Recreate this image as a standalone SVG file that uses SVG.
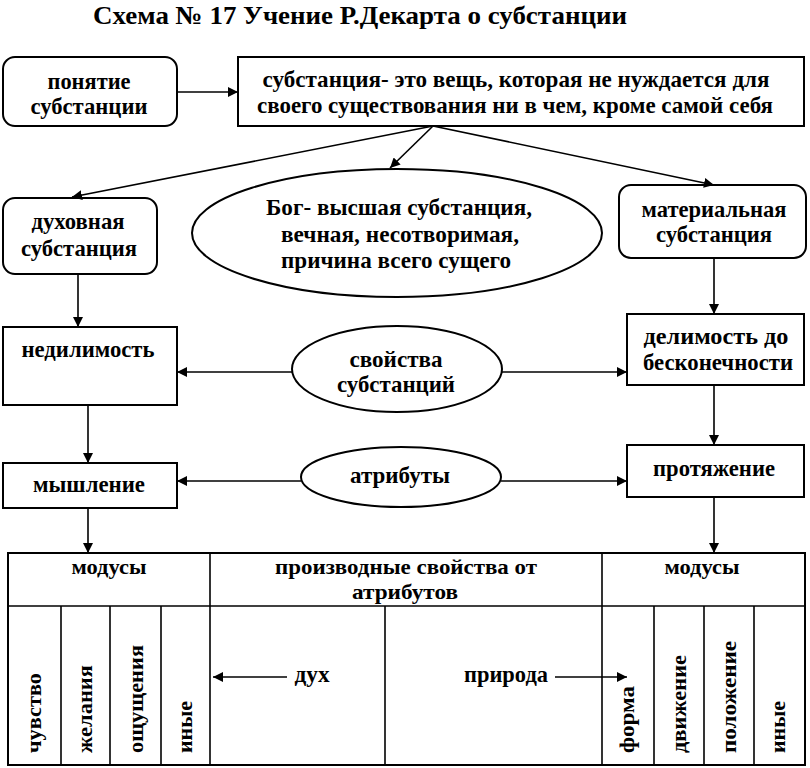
<svg xmlns="http://www.w3.org/2000/svg" width="810" height="768" viewBox="0 0 810 768">
<defs>
<marker id="ah" viewBox="0 0 10 10" refX="10" refY="5" markerWidth="10" markerHeight="10" markerUnits="userSpaceOnUse" orient="auto">
<path d="M0,0 L10,5 L0,10 z" fill="#000"/>
</marker>
<style>
.t{font-family:"Liberation Serif","Times New Roman",serif;font-weight:bold;font-size:24px;fill:#000;text-anchor:middle}
.h{font-size:22px}
.r{font-size:22px;text-anchor:start}
.title{font-size:26px}
.b{fill:#fff;stroke:#000;stroke-width:2}
.c{fill:none;stroke:#000;stroke-width:1.6;marker-end:url(#ah)}
.g{fill:none;stroke:#000;stroke-width:1.6}
</style>
</defs>
<rect width="810" height="768" fill="#fff"/>
<text class="t title" x="360" y="24" textLength="534" lengthAdjust="spacingAndGlyphs">Схема № 17 Учение Р.Декарта о субстанции</text>

<g id="n-ponyatie">
<rect class="b" x="3" y="57" width="174" height="69" rx="12"/>
<text class="t" x="89" y="89" textLength="83" lengthAdjust="spacingAndGlyphs">понятие</text>
<text class="t" x="89" y="114" textLength="117" lengthAdjust="spacingAndGlyphs">субстанции</text>
</g>
<g id="n-definition">
<rect class="b" x="238" y="57" width="566" height="69"/>
<text class="t" x="516" y="87" textLength="507" lengthAdjust="spacingAndGlyphs">субстанция- это вещь, которая не нуждается для</text>
<text class="t" x="515" y="113" textLength="516" lengthAdjust="spacingAndGlyphs">своего существования ни в чем, кроме самой себя</text>
</g>
<g id="n-dukhovnaya">
<rect class="b" x="3" y="198" width="154" height="76" rx="12"/>
<text class="t" x="78" y="229" textLength="93" lengthAdjust="spacingAndGlyphs">духовная</text>
<text class="t" x="79" y="256" textLength="116" lengthAdjust="spacingAndGlyphs">субстанция</text>
</g>
<g id="n-bog">
<ellipse class="b" cx="397" cy="233" rx="205" ry="64"/>
<text class="t" x="399" y="215" textLength="266" lengthAdjust="spacingAndGlyphs">Бог- высшая субстанция,</text>
<text class="t" x="400" y="242" textLength="238" lengthAdjust="spacingAndGlyphs">вечная, несотворимая,</text>
<text class="t" x="396" y="268" textLength="230" lengthAdjust="spacingAndGlyphs">причина всего сущего</text>
</g>
<g id="n-materialnaya">
<rect class="b" x="619" y="185" width="187" height="73" rx="12"/>
<text class="t" x="714" y="217" textLength="145" lengthAdjust="spacingAndGlyphs">материальная</text>
<text class="t" x="714" y="242" textLength="116" lengthAdjust="spacingAndGlyphs">субстанция</text>
</g>
<g id="n-nedilimost">
<rect class="b" x="3" y="327" width="174" height="78"/>
<text class="t" x="88" y="357" textLength="133" lengthAdjust="spacingAndGlyphs">недилимость</text>
</g>
<g id="n-svoystva">
<ellipse class="b" cx="397" cy="369" rx="105" ry="43"/>
<text class="t" x="396" y="367" textLength="93" lengthAdjust="spacingAndGlyphs">свойства</text>
<text class="t" x="396" y="392" textLength="118" lengthAdjust="spacingAndGlyphs">субстанций</text>
</g>
<g id="n-delimost">
<rect class="b" x="627" y="314" width="177" height="71"/>
<text class="t" x="716" y="344" textLength="145" lengthAdjust="spacingAndGlyphs">делимость до</text>
<text class="t" x="718" y="370" textLength="150" lengthAdjust="spacingAndGlyphs">бесконечности</text>
</g>
<g id="n-myshlenie">
<rect class="b" x="3" y="463" width="174" height="45"/>
<text class="t" x="89" y="492" textLength="112" lengthAdjust="spacingAndGlyphs">мышление</text>
</g>
<g id="n-atributy">
<ellipse class="b" cx="401" cy="477" rx="100" ry="30"/>
<text class="t" x="400" y="483" textLength="100" lengthAdjust="spacingAndGlyphs">атрибуты</text>
</g>
<g id="n-protyazhenie">
<rect class="b" x="627" y="445" width="177" height="52"/>
<text class="t" x="714" y="476" textLength="122" lengthAdjust="spacingAndGlyphs">протяжение</text>
</g>

<g id="table">
<rect class="b" x="8" y="553" width="797" height="212"/>
<g class="g">
<line x1="8" y1="606" x2="805" y2="606"/>
<line x1="210" y1="553" x2="210" y2="765"/>
<line x1="602" y1="553" x2="602" y2="765"/>
<line x1="61" y1="606" x2="61" y2="765"/>
<line x1="110" y1="606" x2="110" y2="765"/>
<line x1="161" y1="606" x2="161" y2="765"/>
<line x1="385" y1="606" x2="385" y2="765"/>
<line x1="654" y1="606" x2="654" y2="765"/>
<line x1="704" y1="606" x2="704" y2="765"/>
<line x1="754" y1="606" x2="754" y2="765"/>
</g>
<text class="t h" x="109" y="574" textLength="75" lengthAdjust="spacingAndGlyphs">модусы</text>
<text class="t h" x="406" y="574" textLength="262" lengthAdjust="spacingAndGlyphs">производные свойства от</text>
<text class="t h" x="405" y="599" textLength="106" lengthAdjust="spacingAndGlyphs">атрибутов</text>
<text class="t h" x="702" y="574" textLength="75" lengthAdjust="spacingAndGlyphs">модусы</text>
<text class="t" x="312" y="682" textLength="35" lengthAdjust="spacingAndGlyphs">дух</text>
<text class="t" x="506" y="682" textLength="84" lengthAdjust="spacingAndGlyphs">природа</text>
<text class="t r" transform="translate(41,753) rotate(-90)" textLength="80" lengthAdjust="spacingAndGlyphs">чувство</text>
<text class="t r" transform="translate(92,753) rotate(-90)" textLength="88" lengthAdjust="spacingAndGlyphs">желания</text>
<text class="t r" transform="translate(143,753) rotate(-90)" textLength="108" lengthAdjust="spacingAndGlyphs">ощущения</text>
<text class="t r" transform="translate(192,753) rotate(-90)" textLength="52" lengthAdjust="spacingAndGlyphs">иные</text>
<text class="t r" transform="translate(634,753) rotate(-90)" textLength="67" lengthAdjust="spacingAndGlyphs">форма</text>
<text class="t r" transform="translate(686,753) rotate(-90)" textLength="98" lengthAdjust="spacingAndGlyphs">движение</text>
<text class="t r" transform="translate(736,753) rotate(-90)" textLength="112" lengthAdjust="spacingAndGlyphs">положение</text>
<text class="t r" transform="translate(785,753) rotate(-90)" textLength="52" lengthAdjust="spacingAndGlyphs">иные</text>
</g>

<g id="connectors">
<line class="c" x1="177" y1="92" x2="238" y2="92"/>
<line class="c" x1="433" y1="126" x2="72" y2="197"/>
<line class="c" x1="433" y1="126" x2="390" y2="168"/>
<line class="c" x1="433" y1="126" x2="714" y2="185"/>
<line class="c" x1="78" y1="274" x2="78" y2="327"/>
<line class="c" x1="714" y1="258" x2="714" y2="314"/>
<line class="c" x1="292" y1="372" x2="177" y2="372"/>
<line class="c" x1="502" y1="372" x2="627" y2="372"/>
<line class="c" x1="88" y1="405" x2="88" y2="463"/>
<line class="c" x1="714" y1="385" x2="714" y2="445"/>
<line class="c" x1="301" y1="481" x2="177" y2="481"/>
<line class="c" x1="501" y1="481" x2="627" y2="481"/>
<line class="c" x1="88" y1="508" x2="88" y2="553"/>
<line class="c" x1="714" y1="497" x2="714" y2="553"/>
<line class="c" x1="287" y1="677" x2="213" y2="677"/>
<line class="c" x1="555" y1="677" x2="627" y2="677"/>
</g>
</svg>
